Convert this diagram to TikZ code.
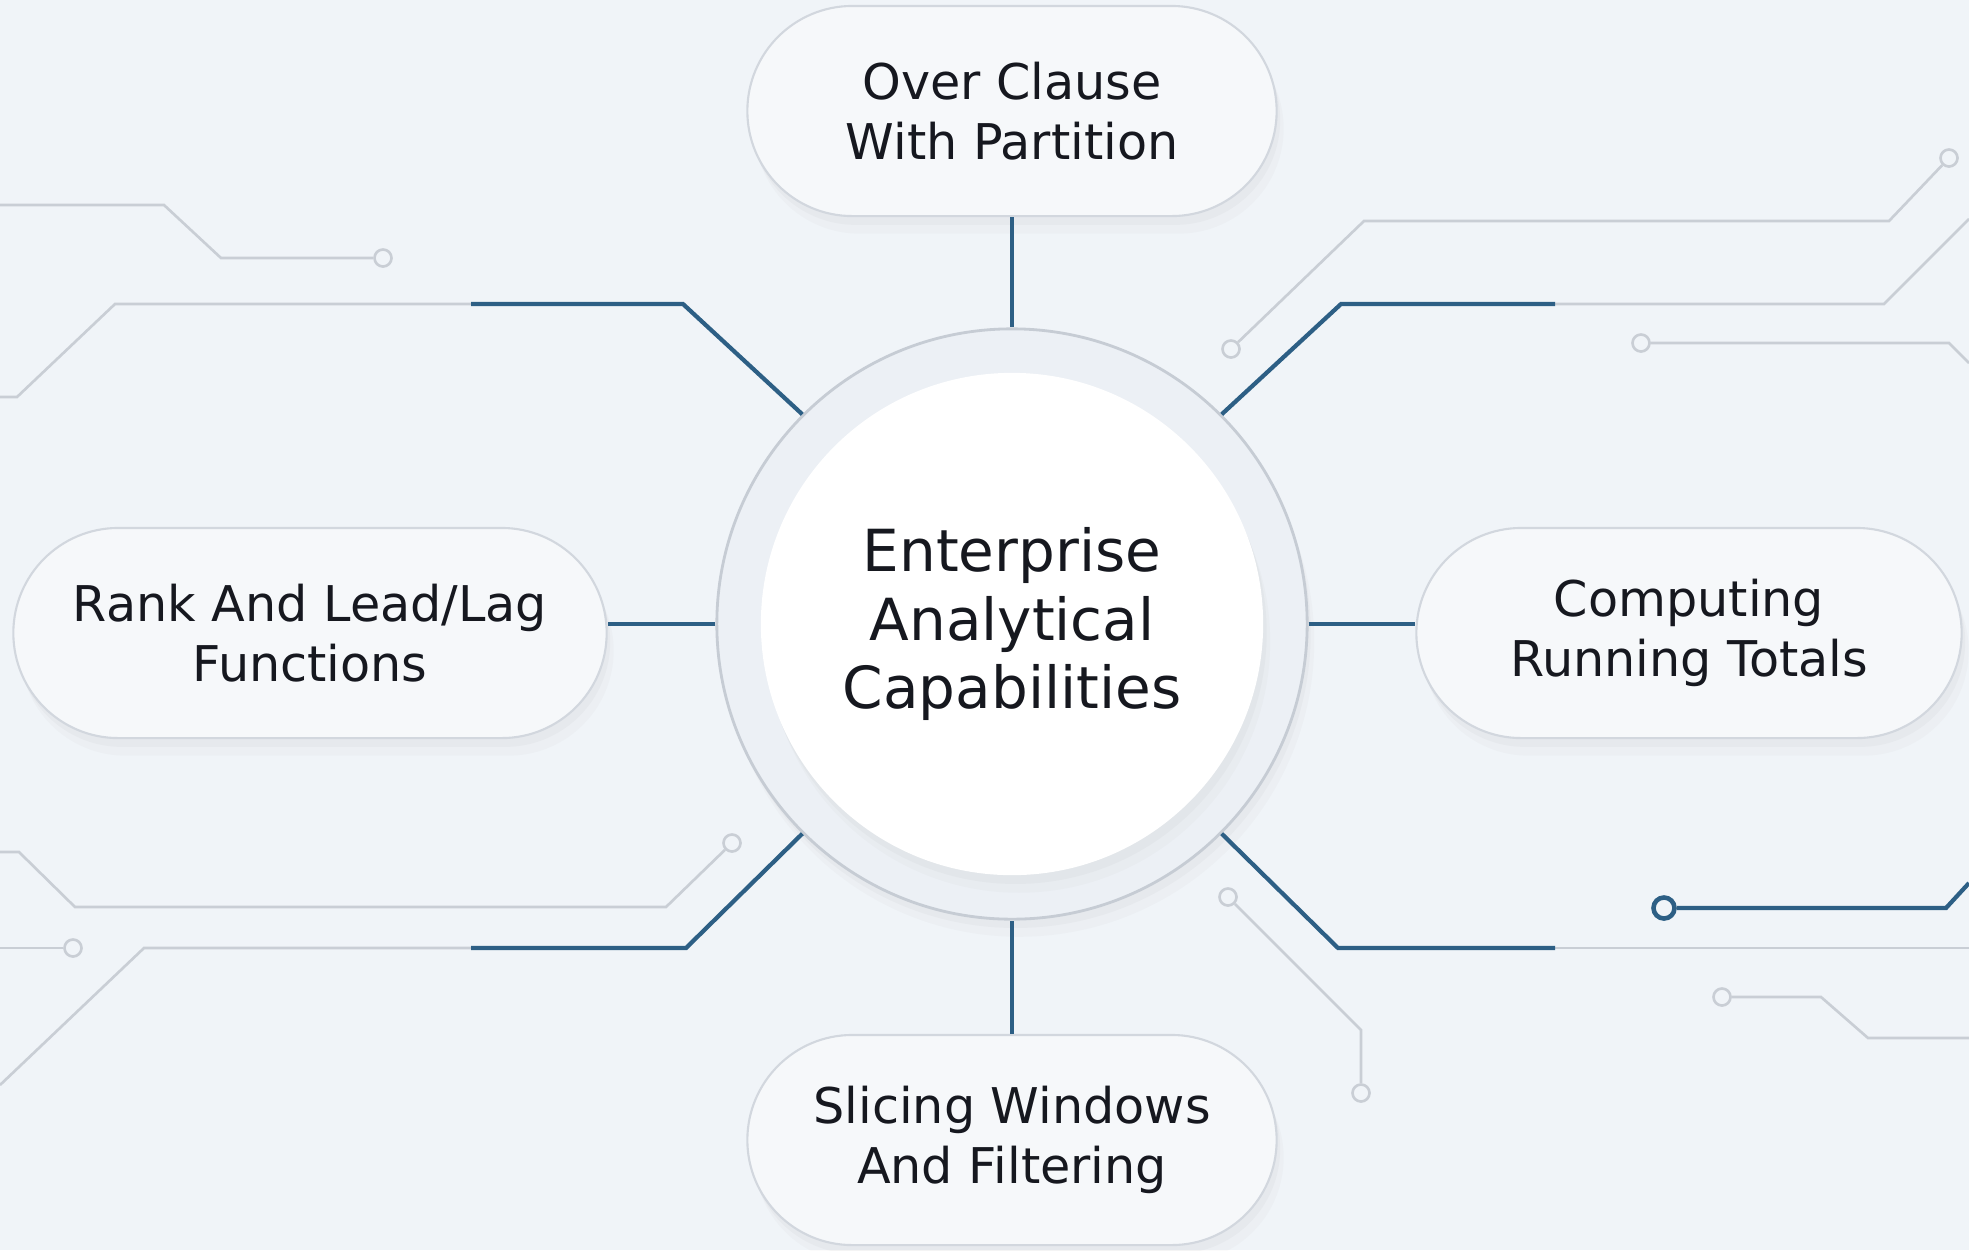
\documentclass[tikz,border=0pt]{standalone}
\usepackage{fontspec}
\setmainfont{DejaVu Sans}
\usetikzlibrary{shadows}
\definecolor{bgcol}{HTML}{F0F4F8}
\definecolor{tracegray}{HTML}{C9CED5}
\definecolor{linkblue}{HTML}{2D5F85}
\definecolor{pillfill}{HTML}{F6F8FA}
\definecolor{pillborder}{HTML}{D2D7DE}
\definecolor{ringfill}{HTML}{ECF0F5}
\definecolor{ringborder}{HTML}{C6CCD4}
\definecolor{textcol}{HTML}{16181F}
\begin{document}
\begin{tikzpicture}[x=0.01cm,y=-0.01cm,
  trace/.style={draw=tracegray,line width=0.75pt},
  link/.style={draw=linkblue,line width=1.2pt},
  pad/.style={circle,draw=tracegray,line width=0.75pt,fill=bgcol,minimum size=0.17cm,inner sep=0pt},
  bluepad/.style={pad,draw=linkblue,line width=1.3pt,minimum size=0.21cm},
  softshadow/.style={
    drop shadow={shadow xshift=2pt,shadow yshift=-5pt,opacity=0.035,fill=gray},
    drop shadow={shadow xshift=1pt,shadow yshift=-2.5pt,opacity=0.05,fill=gray}},
  pill/.style={rectangle,rounded corners=1.05cm,draw=pillborder,line width=0.6pt,fill=pillfill,
    minimum height=2.1cm,align=center,text=textcol,font=\fontsize{14}{17}\selectfont,softshadow},
  hub/.style={circle,draw=ringborder,line width=0.8pt,fill=ringfill,minimum size=5.9cm,inner sep=0pt,softshadow},
  core/.style={circle,fill=white,minimum size=5.02cm,inner sep=0pt,align=center,text=textcol,
    font=\fontsize{16.5}{19.6}\selectfont,softshadow}]
\useasboundingbox (0,0) rectangle (1969,1250);
\fill[bgcol] (0,0) rectangle (1969,1250);

% pads at the ends of the traces
\node[pad] (p1) at (383,258) {};
\node[pad] (p2) at (1231,349) {};
\node[pad] (p3) at (1949,158) {};
\node[pad] (p4) at (1641,343) {};
\node[pad] (p5) at (732,843) {};
\node[pad] (p6) at (73,948) {};
\node[pad] (p7) at (1228,897) {};
\node[pad] (p8) at (1361,1093) {};
\node[bluepad] (p9) at (1664,908) {};
\node[pad] (p10) at (1722,997) {};

% hub and pills
\node[hub] (hub) at (1012,624) {};
\node[core] (core) at (hub) {Enterprise\\Analytical\\Capabilities};
\node[pill,minimum width=5.29cm] (top) at (1012,111) {Over Clause\\With Partition};
\node[pill,minimum width=5.29cm] (bottom) at (1012,1140) {Slicing Windows\\And Filtering};
\node[pill,minimum width=5.93cm] (left) at (310,633) {Rank And Lead/Lag\\Functions};
\node[pill,minimum width=5.45cm] (right) at (1689,633) {Computing\\Running Totals};

% gray traces
\draw[trace] (0,205) -- (164,205) -- (221,258) -- (p1);
\draw[trace] (0,397) -- (17,397) -- (115,304) -- (471,304);
\draw[trace] (1555,304) -- (1884,304) -- (1969,219);
\draw[trace] (p2) -- (1364,221) -- (1889,221) -- (p3);
\draw[trace] (p4) -- (1949,343) -- (1969,363);
\draw[trace] (0,852) -- (19,852) -- (75,907) -- (666,907) -- (p5);
\draw[trace] (0,948) -- (p6);
\draw[trace] (0,1085) -- (144,948) -- (471,948);
\draw[trace] (1555,948) -- (1969,948);
\draw[trace] (p7) -- (1361,1030) -- (p8);
\draw[trace] (p10) -- (1821,997) -- (1868,1038) -- (1969,1038);

% blue links
\draw[link] (top) -- (hub);
\draw[link] (bottom) -- (hub);
\draw[link] (hub.west) -- (hub.west -| left.east);
\draw[link] (hub.east) -- (hub.east -| right.west);
\draw[link] (hub.135) -- (683,304) -- (471,304);
\draw[link] (hub.45) -- (1341,304) -- (1555,304);
\draw[link] (hub.225) -- (686,948) -- (471,948);
\draw[link] (hub.315) -- (1338,948) -- (1555,948);
\draw[link] (p9) -- (1946,908) -- (1969,883);
\end{tikzpicture}
\end{document}
